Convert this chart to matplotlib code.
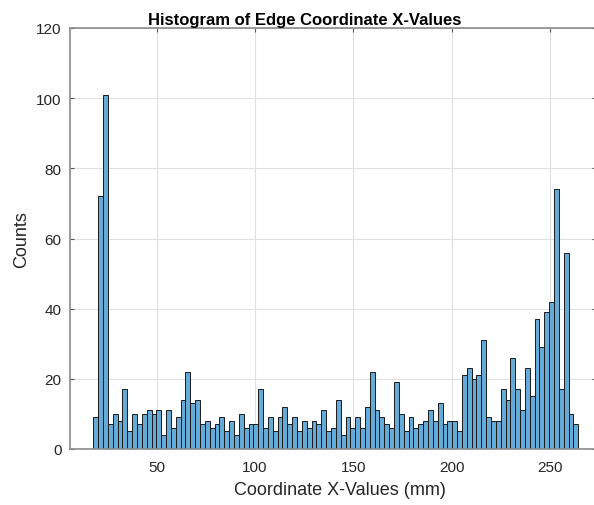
import matplotlib.pyplot as plt
import numpy as np

plt.rcParams['font.family'] = ['Liberation Sans', 'DejaVu Sans']

# histogram counts, 100 bins between the bin limits
counts = [9, 72, 101, 7, 10, 8, 17, 5, 10, 7,
          10, 11, 10, 11, 4, 11, 6, 9, 14, 22,
          13, 14, 7, 8, 6, 7, 9, 5, 8, 4,
          10, 6, 7, 7, 17, 6, 9, 5, 9, 12,
          7, 9, 5, 8, 6, 8, 7, 11, 5, 6,
          14, 4, 9, 6, 9, 6, 12, 22, 11, 9,
          7, 6, 19, 10, 5, 9, 6, 7, 8, 11,
          8, 13, 7, 8, 8, 5, 21, 23, 20, 21,
          31, 9, 8, 8, 17, 14, 26, 17, 11, 23,
          15, 37, 29, 39, 42, 74, 17, 56, 10, 7]
bin_limits = [17.8, 264.4]
x_ticks = [50, 100, 150, 200, 250]
y_ticks = [0, 20, 40, 60, 80, 100, 120]

edges = np.linspace(bin_limits[0], bin_limits[1], len(counts) + 1)

fig = plt.figure(figsize=(5.94, 5.06), dpi=100)
ax = fig.add_axes([70 / 594, 56 / 506, 526 / 594, 421 / 506])

ax.hist(edges[:-1], bins=edges, weights=counts,
        color='#66aad7', edgecolor='#1a1a1a', linewidth=0.7)

ax.set_xlim(5.95, 273.4)
ax.set_ylim(0, 120)
ax.set_xticks(x_ticks)
ax.set_yticks(y_ticks)
ax.grid(True, color='#e0e0e0', linewidth=0.8)
ax.set_axisbelow(True)
ax.tick_params(direction='in', length=3, color='#555555', labelcolor='#262626',
               labelsize=11, top=True, right=True)
ax.tick_params(axis='x', pad=8)
ax.tick_params(axis='y', pad=6)
for s in ax.spines.values():
    s.set_color('#8a8a8a')
    s.set_linewidth(1.2)

ax.set_xlabel('Coordinate X-Values (mm)', fontsize=13, color='#262626')
ax.xaxis.set_label_coords(0.513, -0.075)
ax.set_ylabel('Counts', fontsize=13, color='#262626', labelpad=4)
ax.set_title('Histogram of Edge Coordinate X-Values', fontsize=12,
             fontweight='bold', x=0.447, pad=3)

fig.savefig('out.png', dpi=100)
